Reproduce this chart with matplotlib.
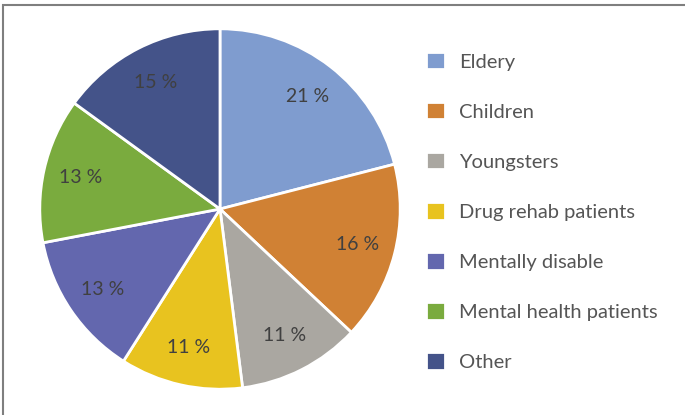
import matplotlib
matplotlib.use("Agg")
import matplotlib.pyplot as plt
from matplotlib.patches import Rectangle

categories = ["Eldery", "Children", "Youngsters", "Drug rehab patients",
              "Mentally disable", "Mental health patients", "Other"]
values = [21, 16, 11, 11, 13, 13, 15]
colors = ["#7f9ccf", "#d08134", "#aaa7a1", "#e8c31f", "#6367ae", "#7aab3e", "#445389"]

plt.rcParams['font.family'] = ['Lato', 'DejaVu Sans']

fig = plt.figure(figsize=(6.85, 4.15), dpi=100)
W, H = 685, 415
cx, cy, R = 220, 209, 182
ax = fig.add_axes([(cx - R) / W, (H - cy - R) / H, 2 * R / W, 2 * R / H])

wedges, texts, autotexts = ax.pie(
    values, colors=colors, startangle=90, counterclock=False,
    autopct=lambda p: f"{p:.0f} %", pctdistance=0.79, radius=1.0,
    wedgeprops=dict(edgecolor="white", linewidth=2),
    textprops=dict(color="#404040", fontsize=14))
ax.set_xlim(-1.01, 1.01)
ax.set_ylim(-1.01, 1.01)
ax.set_aspect("equal")

leg = fig.legend(wedges, categories, loc="upper left",
                 bbox_to_anchor=(416 / W, 1 - 42 / H), frameon=False,
                 fontsize=14.5, labelcolor="#555555", handlelength=0.95,
                 handleheight=0.95, labelspacing=1.56, handletextpad=0.7,
                 borderpad=0)

fig.patches.append(Rectangle((3 / W, -0.1), 1.2, 1.1 - 5 / H,
                             transform=fig.transFigure, fill=False,
                             edgecolor="#7f7f7f", linewidth=1.5))

fig.savefig("out.png", dpi=100)
